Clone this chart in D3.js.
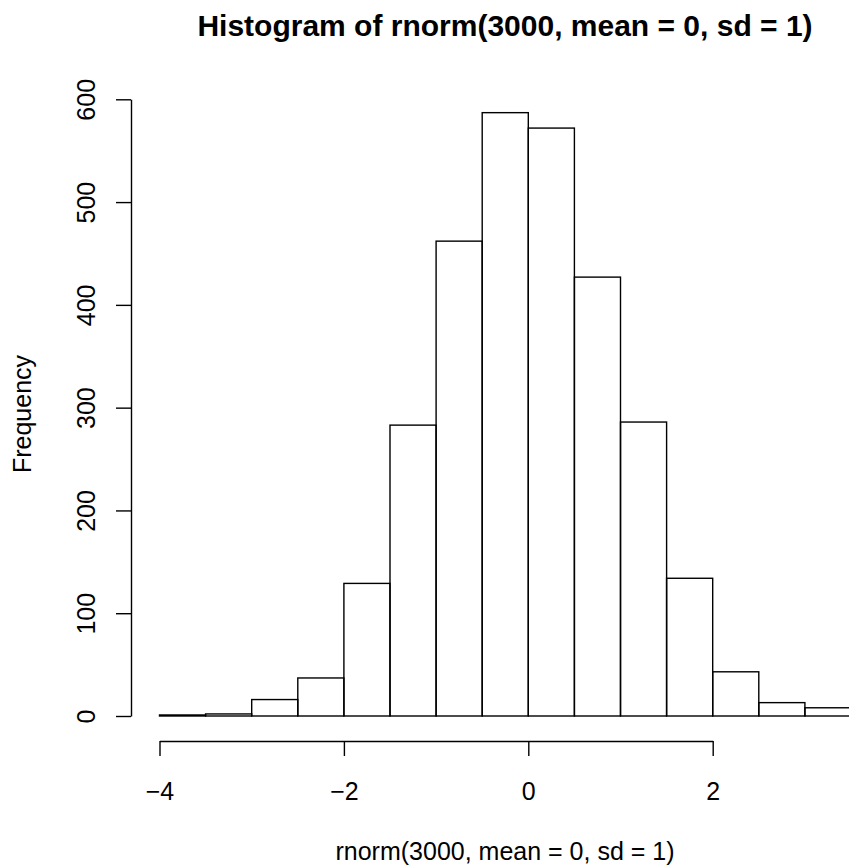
<!DOCTYPE html>
<html>
<head>
<meta charset="utf-8">
<script src="https://cdn.jsdelivr.net/npm/d3@7"></script>
<style>
  body { margin: 0; background: #fff; }
  svg text { font-family: "Liberation Sans", Arial, sans-serif; fill: #000; }
</style>
</head>
<body>
<div id="chart"></div>
<script>
(function() {
    var width = 849,
        height = 867;

    // histogram bins (breaks every 0.5) and counts
    var binStarts = [-4, -3.5, -3, -2.5, -2, -1.5, -1, -0.5, 0, 0.5, 1, 1.5, 2, 2.5, 3];
    var counts = [1, 2, 16, 37, 129, 283, 462, 587, 572, 427, 286, 134, 43, 13, 8];
    var binWidth = 0.5;
    var xTicks = [-4, -2, 0, 2];
    var yTicks = [0, 100, 200, 300, 400, 500, 600];

    var svg = d3.select("#chart")
        .append("svg")
        .attr("width", width)
        .attr("height", height)

    var xScale = d3.scaleLinear().domain([-4, 2]).range([159.5, 712.7]);
    var yScale = d3.scaleLinear().domain([0, 600]).range([716, 99.3]);

    var bins = binStarts.map(function(s, i) {
        return { x0: s, x1: s + binWidth, n: counts[i] };
    });

    svg.selectAll(".bar")
        .data(bins)
        .enter().append("rect")
        .attr("class", "bar")
        .attr("x", function(d) { return xScale(d.x0) })
        .attr("width", function(d) { return xScale(d.x1) - xScale(d.x0) })
        .attr("y", function(d) { return yScale(d.n) })
        .attr("height", function(d) { return yScale(0) - yScale(d.n) })
        .attr("fill", "none")
        .attr("stroke", "#000")
        .attr("stroke-width", 1.4)

    // x axis
    var xAxis = svg.append("g")
        .attr("transform", "translate(0,741)")
        .call(d3.axisBottom(xScale).tickValues(xTicks).tickFormat(d3.format("d")).tickSize(15).tickSizeOuter(0))
    xAxis.selectAll("path, line").attr("stroke", "#000").attr("stroke-width", 1.4)
    xAxis.selectAll("text")
        .attr("y", 59)
        .attr("dy", 0)
        .style("font-size", "25px")
        .style("font-family", "Liberation Sans, Arial, sans-serif")

    // y axis
    var yAxis = svg.append("g")
        .attr("transform", "translate(131,0)")
        .call(d3.axisLeft(yScale).tickValues(yTicks).tickFormat(d3.format("d")).tickSize(15).tickSizeOuter(0))
    yAxis.selectAll("path, line").attr("stroke", "#000").attr("stroke-width", 1.4)
    yAxis.selectAll("text")
        .attr("transform", "rotate(-90)")
        .attr("x", 0)
        .attr("y", -36)
        .attr("dy", 0)
        .attr("text-anchor", "middle")
        .style("font-size", "25px")
        .style("font-family", "Liberation Sans, Arial, sans-serif")

    // plot region centre, R style
    var midX = 505,
        midY = 414;

    svg.append("text")
        .attr("x", midX)
        .attr("y", 36)
        .attr("text-anchor", "middle")
        .style("font-size", "30px")
        .style("font-weight", "bold")
        .text("Histogram of rnorm(3000, mean = 0, sd = 1)")

    svg.append("text")
        .attr("x", midX)
        .attr("y", 860)
        .attr("text-anchor", "middle")
        .style("font-size", "25px")
        .text("rnorm(3000, mean = 0, sd = 1)")

    svg.append("text")
        .attr("transform", "translate(31," + midY + ") rotate(-90)")
        .attr("text-anchor", "middle")
        .style("font-size", "25px")
        .text("Frequency")
})();
</script>
</body>
</html>
